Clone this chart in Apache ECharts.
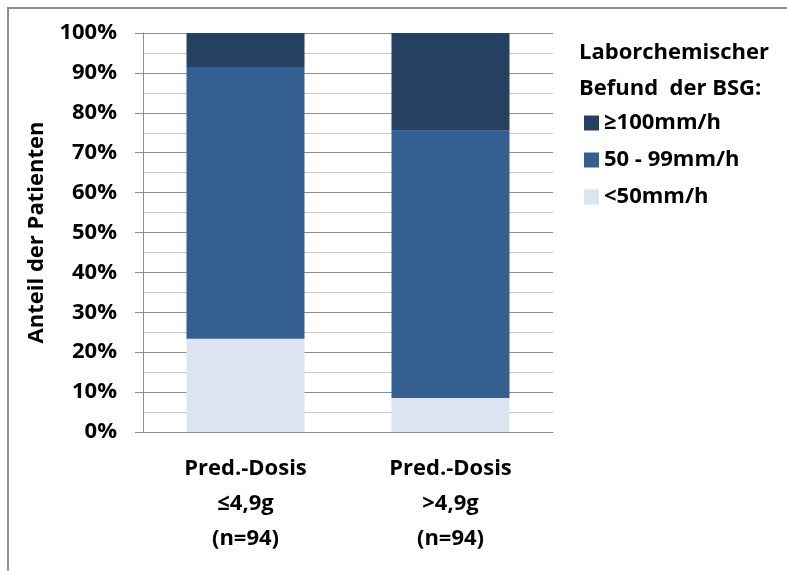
<!DOCTYPE html>
<html>
<head>
<meta charset="utf-8">
<script src="https://cdn.jsdelivr.net/npm/echarts@6/dist/echarts.min.js"></script>
<style>
  html, body { margin: 0; padding: 0; background: #fff; }
  #chart { width: 787px; height: 571px; }
</style>
</head>
<body>
<div id="chart"></div>
<script>
// Prednisolone dose groups and ESR (BSG) finding shares, in percent
const categories = ['Pred.-Dosis\n≤4,9g\n(n=94)', 'Pred.-Dosis\n>4,9g\n(n=94)'];
const seriesNames = ['<50mm/h', '50 - 99mm/h', '≥100mm/h'];
const below50 = [23.4, 8.5];
const from50to99 = [68.1, 67.0];
const above100 = [8.5, 24.5];
const yTicks = [0, 10, 20, 30, 40, 50, 60, 70, 80, 90, 100];

const FONT = '"Open Sans", "Liberation Sans", sans-serif';
const FS = 22;
const colors = { low: '#dbe5f1', mid: '#365f91', high: '#254061' };

const chart = echarts.init(document.getElementById('chart'));

const barStyle = { barWidth: 118, stack: 'total', type: 'bar' };

chart.setOption({
  animation: false,
  textStyle: { fontFamily: FONT },
  grid: { left: 143, right: 234, top: 33, bottom: 139 },
  graphic: [
    {
      type: 'rect',
      shape: { x: 8, y: 8, width: 800, height: 600 },
      style: { fill: 'none', stroke: '#8c8c8c', lineWidth: 2 },
      silent: true
    },
    {
      type: 'text',
      left: 579,
      top: 35,
      style: {
        text: 'Laborchemischer\nBefund  der BSG:',
        font: 'bold ' + FS + 'px ' + FONT,
        lineHeight: 36,
        fill: '#000'
      }
    }
  ],
  legend: {
    orient: 'vertical',
    left: 579,
    top: 107,
    itemWidth: 15,
    itemHeight: 15,
    itemGap: 15,
    icon: 'rect',
    data: ['≥100mm/h', '50 - 99mm/h', '<50mm/h'],
    textStyle: { fontFamily: FONT, fontWeight: 'bold', fontSize: FS, color: '#000' }
  },
  xAxis: {
    type: 'category',
    data: categories,
    axisLine: { lineStyle: { color: '#8c8c8c', width: 1 } },
    axisTick: { length: 8, lineStyle: { color: '#8c8c8c' } },
    axisLabel: {
      color: '#000',
      fontFamily: FONT,
      fontWeight: 'bold',
      fontSize: FS,
      lineHeight: 35,
      margin: 19,
      interval: 0
    }
  },
  yAxis: {
    type: 'value',
    min: 0,
    max: 100,
    interval: 10,
    name: 'Anteil der Patienten',
    nameLocation: 'middle',
    nameGap: 95,
    nameTextStyle: { fontFamily: FONT, fontWeight: 'bold', fontSize: FS, color: '#000' },
    axisLine: { show: true, lineStyle: { color: '#8c8c8c', width: 1 } },
    axisTick: { show: true, length: 8, lineStyle: { color: '#8c8c8c' } },
    minorTick: { show: false, splitNumber: 2 },
    axisLabel: {
      color: '#000',
      fontFamily: FONT,
      fontWeight: 'bold',
      fontSize: FS,
      margin: 26,
      formatter: v => (yTicks.includes(v) ? v + '%' : '')
    },
    splitLine: { show: true, lineStyle: { color: '#8c8c8c', width: 1 } },
    minorSplitLine: { show: true, lineStyle: { color: '#c8c8c8', width: 1 } }
  },
  series: [
    Object.assign({ name: seriesNames[0], data: below50, itemStyle: { color: colors.low } }, barStyle),
    Object.assign({ name: seriesNames[1], data: from50to99, itemStyle: { color: colors.mid } }, barStyle),
    Object.assign({ name: seriesNames[2], data: above100, itemStyle: { color: colors.high } }, barStyle)
  ]
});
</script>
</body>
</html>
